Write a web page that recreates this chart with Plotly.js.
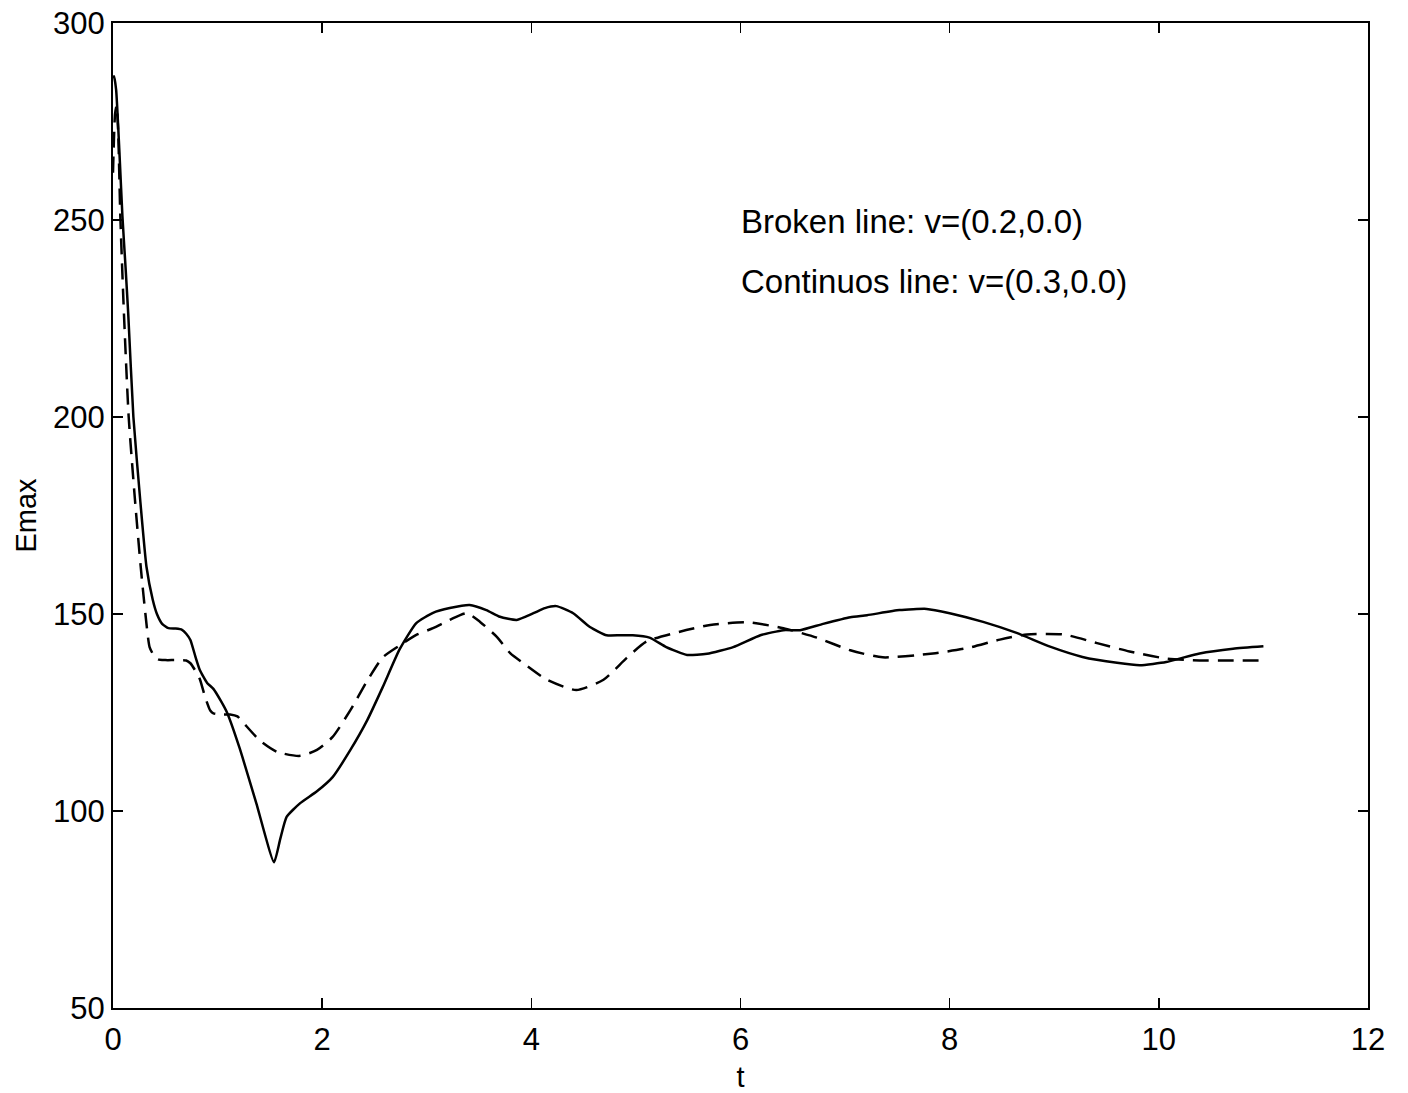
<!DOCTYPE html>
<html>
<head>
<meta charset="utf-8">
<script src="https://cdn.plot.ly/plotly-3.0.1.min.js"></script>
<style>html,body{margin:0;padding:0;background:#fff;}#chart{width:1408px;height:1093px;}</style>
</head>
<body>
<div id="chart"></div>
<script>
// Continuous line: v=(0.3,0.0)
const tSolid = [0, 0.01, 0.03, 0.06, 0.09, 0.12, 0.146, 0.195, 0.26, 0.32,
  0.38, 0.42, 0.47, 0.53, 0.6, 0.66, 0.70, 0.74, 0.79, 0.83,
  0.9, 0.96, 1.03, 1.09, 1.21, 1.37, 1.54, 1.6, 1.66, 1.79,
  1.95, 2.10, 2.27, 2.43, 2.58, 2.74, 2.90, 3.06, 3.22, 3.41,
  3.57, 3.70, 3.86, 4.02, 4.13, 4.24, 4.40, 4.56, 4.72, 4.85,
  4.97, 5.13, 5.29, 5.49, 5.68, 5.93, 6.19, 6.41, 6.57, 6.79,
  7.05, 7.21, 7.52, 7.78, 8.0, 8.32, 8.64, 8.96, 9.27, 9.6,
  9.82, 10.07, 10.39, 10.71, 11.0];
const eSolid = [286, 286.5, 283, 268, 251, 238, 226, 200, 179, 162,
  153.6, 150, 147.5, 146.4, 146.3, 146, 145, 143.4, 139, 135.8,
  132.5, 131, 128, 125, 116, 102, 87, 93, 98.5, 102,
  105, 108.6, 115.5, 123, 131.5, 141, 147.7, 150.3, 151.5, 152.3,
  151, 149.3, 148.5, 150.2, 151.5, 152, 150.2, 146.7, 144.6, 144.6,
  144.6, 144, 141.6, 139.6, 139.9, 141.6, 144.6, 145.9, 145.9, 147.5,
  149.2, 149.7, 151, 151.3, 150.2, 148, 145.2, 141.7, 139.1, 137.6,
  137, 137.8, 140, 141.2, 141.8];

// Broken line: v=(0.2,0.0)
const tBroken = [0, 0.02, 0.035, 0.05, 0.07, 0.105, 0.15, 0.21, 0.265, 0.31,
  0.35, 0.39, 0.43, 0.5, 0.6, 0.7, 0.74, 0.79, 0.83, 0.88,
  0.93, 0.96, 1.05, 1.12, 1.19, 1.24, 1.40, 1.57, 1.79, 1.95,
  2.10, 2.27, 2.43, 2.58, 2.74, 2.90, 3.06, 3.22, 3.38, 3.51,
  3.67, 3.80, 3.92, 4.15, 4.43, 4.69, 4.91, 5.10, 5.42, 5.71,
  6.06, 6.41, 6.73, 7.05, 7.36, 7.84, 8.16, 8.48, 8.74, 9.09,
  9.41, 9.72, 10.07, 10.39, 10.71, 11.0];
const eBroken = [262, 277, 279, 272, 251, 226, 200, 179, 162, 150,
  141.6, 139.5, 138.5, 138.3, 138.3, 138.2, 137.5, 135.5, 133.5, 129,
  125.5, 124.8, 124.5, 124.5, 124, 122.6, 118, 115, 114, 115.5,
  118.8, 125.6, 133, 139, 142, 144.7, 146.4, 148.5, 150.2, 148,
  144.2, 140, 137.6, 133.3, 130.7, 133.3, 138.8, 143, 145.5, 147.2,
  147.9, 146.4, 144, 140.8, 139, 140, 141.3, 143.5, 144.8, 144.8,
  142.6, 140.5, 138.7, 138.2, 138.2, 138.2];

const xTicks = [0, 2, 4, 6, 8, 10, 12];
const yTicks = [50, 100, 150, 200, 250, 300];
const noteLines = ["Broken line: v=(0.2,0.0)", "Continuos line: v=(0.3,0.0)"];
const noteX = 5.99;
const noteY = [249.5, 234.5];

const fam = "Liberation Sans, Arial, Helvetica, sans-serif";
const tickFont = {family: fam, size: 31, color: "#000"};
const noteFont = {family: fam, size: 33, color: "#000"};
const titleFont = {family: fam, size: 29, color: "#000"};

const traces = [
  {x: tBroken, y: eBroken, type: "scatter", mode: "lines", name: "v=(0.2,0.0)",
   line: {color: "#000", width: 2.5, dash: "16px,9px", shape: "spline", smoothing: 0.6}},
  {x: tSolid, y: eSolid, type: "scatter", mode: "lines", name: "v=(0.3,0.0)",
   line: {color: "#000", width: 2.5, shape: "spline", smoothing: 0.5}}
];

const axisCommon = {
  showgrid: false, zeroline: false, showline: true, linecolor: "#000", linewidth: 2,
  mirror: "ticks", ticks: "inside", ticklen: 10, tickwidth: 1.5, tickcolor: "#000",
  tickfont: tickFont
};

const layout = {
  width: 1408, height: 1093,
  margin: {l: 113, r: 40, t: 23, b: 85},
  paper_bgcolor: "#fff", plot_bgcolor: "#fff",
  showlegend: false,
  font: tickFont,
  xaxis: Object.assign({}, axisCommon, {
    range: [0, 12], tickvals: xTicks, ticktext: xTicks.map(String),
    ticklabelstandoff: 3,
    title: {text: "t", font: titleFont, standoff: 12}
  }),
  yaxis: Object.assign({}, axisCommon, {
    range: [50, 300], tickvals: yTicks, ticktext: yTicks.map(String),
    title: {text: "Emax", font: titleFont, standoff: 8}
  }),
  annotations: noteLines.map((txt, i) => ({
    x: noteX, y: noteY[i], xref: "x", yref: "y", text: txt, showarrow: false,
    xanchor: "left", yanchor: "middle", font: noteFont
  }))
};

Plotly.newPlot("chart", traces, layout, {staticPlot: true, displayModeBar: false});
</script>
</body>
</html>
